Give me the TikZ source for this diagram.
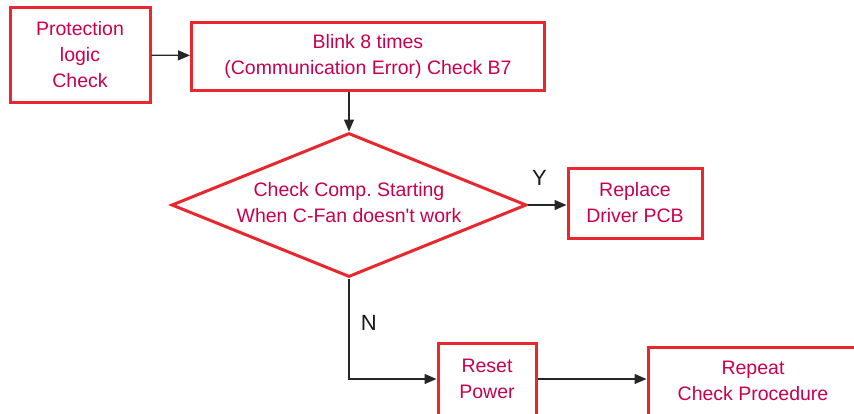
\documentclass[tikz,border=0pt]{standalone}
\usepackage{fontspec}
\setmainfont{Liberation Sans}[Ligatures=TeXOff]
\usepackage{xcolor}
\usetikzlibrary{arrows.meta,shapes.geometric}
\definecolor{boxred}{RGB}{232,40,46}
\definecolor{txtred}{RGB}{200,0,80}

\begin{document}
\begin{tikzpicture}[x=1pt, y=-1pt, >={Triangle[length=12pt,width=10pt]},
  font=\fontsize{19.5}{26}\selectfont,
  stepbox/.style={draw=boxred, line width=3pt, text=txtred, align=center, inner sep=0pt},
  flow/.style={->, line width=1.3pt, black!85},
  yn/.style={font=\fontsize{22}{26}\selectfont, text=black!90}]
\clip (0,0) rectangle (854,413);
% boxes
\node[stepbox, minimum width=140, minimum height=95] (prot) at (80,55) {Protection\\logic\\Check};
\node[stepbox, minimum width=353, minimum height=68] (blink) at (368,56) {Blink 8 times\\(Communication Error) Check B7};
\node[diamond, draw=boxred, line width=3pt, minimum width=355, minimum height=144, inner sep=0pt] (chk) at (349,205) {};
\node[text=txtred, align=center] (chktxt) at (349,203) {Check Comp.\ Starting\\When C-Fan doesn't work};
\node[stepbox, minimum width=134, minimum height=70] (repl) at (635,203) {Replace\\Driver PCB};
\node[stepbox, minimum width=98, minimum height=72] (reset) at (487,379) {Reset\\Power};
\node[stepbox, minimum width=210, minimum height=68] (rep) at (753,381) {Repeat\\Check Procedure};
% connectors
\draw[flow] (prot) -- (blink);
\draw[flow] (chk.north |- blink.south) -- (chk.north);
\draw[flow] (chk.east) -- (repl.west |- chk.east) node[yn, pos=0.3, above=16pt] (ylab) {Y};
\draw[flow] (chk.south) |- (reset.west) node[yn, pos=0.22, right=8pt] (nlab) {N};
\draw[flow] (reset.east) -- (rep.west |- reset.east);
\end{tikzpicture}
\end{document}
